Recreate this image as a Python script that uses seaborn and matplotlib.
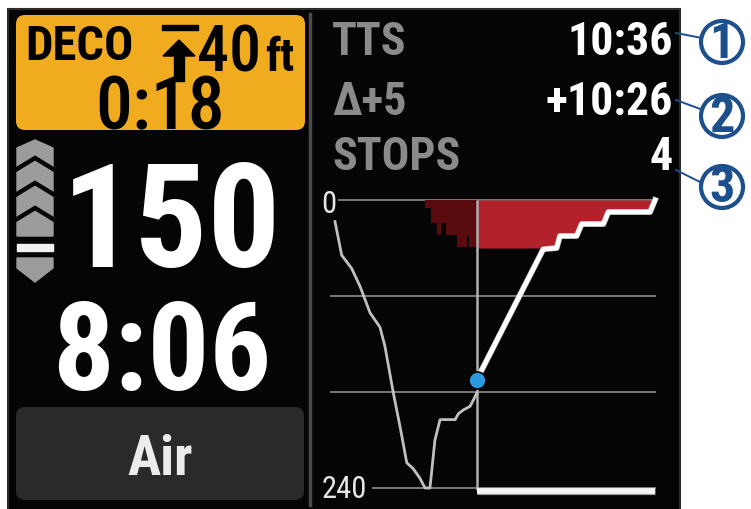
import numpy as np
import seaborn as sns
import matplotlib.pyplot as plt
from matplotlib import font_manager
from matplotlib.patches import Rectangle, FancyBboxPatch, Polygon, Circle
import matplotlib.patheffects as pe

# dive data (time in minutes, depth in feet)
past_time = [0.0, 0.39, 0.97, 1.46, 1.75, 2.04, 2.62, 2.91, 3.40, 3.79, 4.18, 4.56,
             4.95, 5.24, 5.53, 5.82, 6.12, 7.00, 7.19, 7.47, 7.86, 8.05, 8.25]
past_depth = [18, 46, 57, 72, 83, 94, 106, 122, 161, 189, 219, 224,
              232, 240, 240, 200, 183, 183, 178, 175, 172, 167, 161]
ascent_time = [8.25, 12.13, 12.91, 13.10, 14.07, 14.37, 15.63, 15.92, 18.35, 18.64]
ascent_depth = [150, 41, 40, 30, 30, 20, 20, 10, 10, 0]
ceiling_edges = [5.24, 5.59, 5.94, 6.17, 6.46, 7.11, 7.69, 7.80, 8.25]
ceiling_depth = [7, 19, 29, 19, 29, 39, 30, 39]
now_time = 8.25
now_depth = 150
deco_depth = 40
grid_depths = [0, 80, 160, 240]
max_depth = 240

# screen readouts
deco_stop = "40"
deco_time = "0:18"
cur_depth = "150"
dive_time = "8:06"
gas = "Air"
info_labels = ["TTS", "\u0394+5", "STOPS"]
info_values = ["10:36", "+10:26", "4"]

names = {f.name for f in font_manager.fontManager.ttflist}
narrow = next((n for n in ["Roboto Condensed", "Liberation Sans Narrow"] if n in names), "Roboto")
plt.rcParams["font.family"] = [narrow, "DejaVu Sans"]

W, H = 751, 509
fig = plt.figure(figsize=(W / 100, H / 100), dpi=100, facecolor="white")
bg = fig.add_axes([0, 0, 1, 1])
bg.set_xlim(0, W)
bg.set_ylim(H, 0)
bg.set_axis_off()

# screen
bg.add_patch(Rectangle((8, 9), 672, 505, facecolor="#050505", edgecolor="#2c2c2c", lw=1.5))
bg.add_patch(FancyBboxPatch((16, 15), 289, 115, boxstyle="round,pad=0,rounding_size=9",
                            facecolor="#f0ab1e", edgecolor="none"))
bg.add_patch(FancyBboxPatch((16, 407), 288, 93, boxstyle="round,pad=0,rounding_size=9",
                            facecolor="#2a2a2a", edgecolor="none"))
bg.plot([309.5, 309.5], [14, 505], color="#4a4a4a", lw=2.5)

# deco box
bg.text(25, 60, "DECO", fontsize=35, fontweight="bold", color="black")
bg.add_patch(Rectangle((162, 25), 36, 5, color="black"))
bg.add_patch(Polygon([(163, 56), (179, 40), (195, 56)], color="black"))
bg.add_patch(Rectangle((174, 55), 10, 26, color="black"))
bg.text(261, 71, deco_stop, fontsize=46, fontweight="medium", color="black", ha="right")
bg.text(265, 71, "ft", fontsize=33, fontweight="bold", color="black")
bg.text(160, 129, deco_time, fontsize=53, fontweight="medium", color="black", ha="center")

# ascent rate bar
grey = "#9b9d9b"
bg.add_patch(Polygon([(17, 148), (35, 140), (53, 148), (53, 236), (17, 236)], color=grey))
for tip in [158, 183, 208]:
    bg.plot([17, 35, 53], [tip + 11, tip, tip + 11], color="#050505", lw=3.2,
            solid_joinstyle="miter")
bg.add_patch(Rectangle((17, 244), 36, 7, color="#f2f2f2"))
bg.add_patch(Polygon([(17, 258), (53, 258), (53, 268), (35, 282), (17, 268)], color=grey))

# big readouts
bg.text(281, 267, cur_depth, fontsize=104, fontweight="bold", color="white", ha="right")
bg.text(162, 390, dive_time, fontsize=88, fontweight="bold", color="white", ha="center")
bg.text(160, 475, gas, fontsize=40, fontweight="bold", color="#ececec", ha="center")

# info rows
for lab, val, base in zip(info_labels, info_values, [55, 115, 170]):
    bg.text(332, base, lab, fontsize=33, fontweight="bold", color="#8a8a8a")
    bg.text(673, base, val, fontsize=33, fontweight="bold", color="white", ha="right")

# callouts
blue = "#1c4f8c"
for n, (x0, y0, x1, y1) in enumerate([(676, 33, 702, 38), (676, 100, 703, 110),
                                       (676, 170, 702, 183)], start=1):
    bg.plot([x0, x1], [y0, y1], color=blue, lw=1.4)
    cy = [42, 116, 187][n - 1]
    bg.add_patch(Circle((722, cy), 21, facecolor="white", edgecolor=blue, lw=3, zorder=3))
    bg.text(722, cy + 15.5, str(n), fontsize=36, fontweight="bold", color=blue,
            ha="center", zorder=4)

# dive profile chart
px0, px1, py0, py1 = 318, 670, 180, 500
ax = fig.add_axes([px0 / W, 1 - py1 / H, (px1 - px0) / W, (py1 - py0) / H])
ax.set_xlim((px0 - 335) / 17.17, (px1 - 335) / 17.17)
ax.set_ylim((py1 - 200) / 1.2, (py0 - 200) / 1.2)
ax.set_axis_off()

gcol = "#8c8c8c"
starts = [0.17, -0.29, -0.29, 2.15]
for d, s in zip(grid_depths, starts):
    ax.hlines(d, s, 18.7, color=gcol, lw=1.2, zorder=1)

ax.bar(ceiling_edges[:-1], ceiling_depth, width=np.diff(ceiling_edges), align="edge",
       color="#5a0b0f", zorder=2)
ax.fill_between(ascent_time, 0, np.minimum(ascent_depth, deco_depth), color="#b3212b",
                lw=0, zorder=2)
ax.vlines(now_time, 0, max_depth + 2, color="#b0b0b0", lw=1.8, zorder=3)
ax.hlines(max_depth + 2.6, now_time, ascent_time[-1], color="#f4f4f4", lw=4.2, zorder=3,
          path_effects=[pe.Stroke(linewidth=5.2, foreground="#9a9a9a"), pe.Normal()])

sns.lineplot(x=past_time, y=past_depth, sort=False, color="#c0c0c0", lw=2, ax=ax, zorder=4)
sns.lineplot(x=ascent_time, y=ascent_depth, sort=False, color="white", lw=3.2, ax=ax, zorder=4,
             path_effects=[pe.Stroke(linewidth=4.2, foreground="#bdbdbd"), pe.Normal()])
sns.scatterplot(x=[now_time], y=[now_depth], s=150, color="#2b9be0", edgecolor="black",
                linewidth=1.2, ax=ax, zorder=5)

ax.text((329 - 335) / 17.17, 10.8, "0", fontsize=22, color="#e6e6e6", ha="center")
ax.text((322 - 335) / 17.17, 248.3, "240", fontsize=22, color="#e6e6e6", ha="left")
ax.set_xlabel("")
ax.set_ylabel("")

fig.savefig("out.png", dpi=100, facecolor="white")
